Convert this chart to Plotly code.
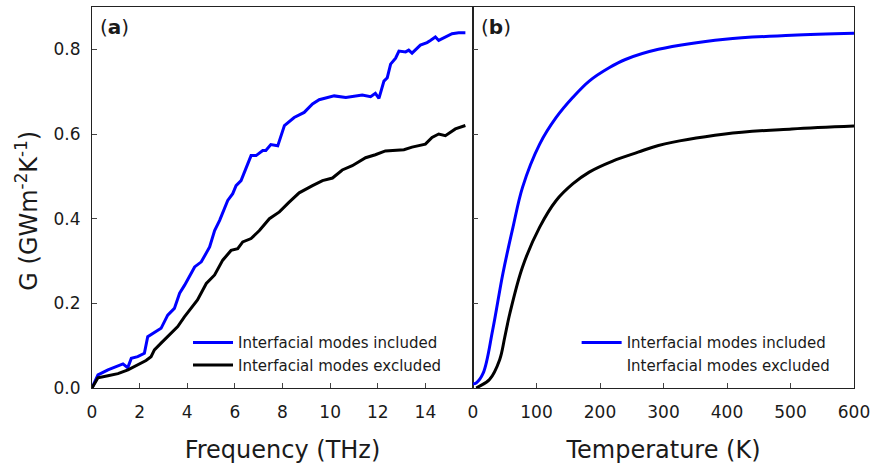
import plotly.graph_objects as go

# Panel (a): cumulative G vs frequency
freq_incl = [0.0, 0.25, 0.67, 1.09, 1.3, 1.5, 1.65, 1.92, 2.2, 2.34, 2.62, 2.9, 3.18, 3.46, 3.68, 3.89,
             4.31, 4.59, 4.94, 5.15, 5.36, 5.7, 5.91, 6.05, 6.26, 6.47, 6.68, 6.89, 7.17, 7.3, 7.51, 7.8,
             8.08, 8.49, 8.91, 9.26, 9.54, 10.17, 10.66, 11.35, 11.7, 11.9, 12.05, 12.26, 12.4, 12.54,
             12.75, 12.89, 13.17, 13.3, 13.44, 13.79, 14.07, 14.21, 14.42, 14.56, 14.84, 15.12, 15.4, 15.68]
g_incl = [0.0, 0.031, 0.043, 0.053, 0.057, 0.048, 0.07, 0.074, 0.082, 0.121, 0.131, 0.141, 0.172, 0.188, 0.224, 0.243,
          0.286, 0.298, 0.333, 0.372, 0.396, 0.443, 0.459, 0.478, 0.49, 0.521, 0.549, 0.549, 0.561, 0.561, 0.575, 0.572,
          0.62, 0.639, 0.651, 0.671, 0.681, 0.69, 0.686, 0.692, 0.688, 0.696, 0.684, 0.725, 0.733, 0.765,
          0.779, 0.796, 0.794, 0.798, 0.791, 0.81, 0.816, 0.821, 0.829, 0.821, 0.829, 0.837, 0.839, 0.839]

freq_excl = [0.0, 0.04, 0.25, 0.67, 1.09, 1.51, 1.92, 2.27, 2.48, 2.62, 2.9, 3.25, 3.6, 3.88, 4.15, 4.43,
             4.8, 5.15, 5.49, 5.84, 6.12, 6.33, 6.68, 7.03, 7.45, 7.87, 8.28, 8.7, 9.26, 9.68, 10.1,
             10.51, 10.93, 11.49, 11.9, 12.32, 13.1, 13.44, 14.0, 14.28, 14.56, 14.84, 15.26, 15.68]
g_excl = [0.0, 0.004, 0.024, 0.029, 0.034, 0.043, 0.055, 0.065, 0.074, 0.09, 0.106, 0.125, 0.145, 0.168, 0.188, 0.208,
          0.247, 0.267, 0.302, 0.325, 0.329, 0.345, 0.353, 0.372, 0.4, 0.416, 0.439, 0.461, 0.478, 0.49, 0.496,
          0.515, 0.525, 0.544, 0.551, 0.56, 0.563, 0.569, 0.576, 0.592, 0.6, 0.596, 0.612, 0.62]

# Panel (b): G vs temperature
temp_incl = [0, 5, 16, 31, 47, 63, 78, 105, 131, 157, 183, 215, 240, 292, 397, 502, 600]
gt_incl = [0.01, 0.012, 0.035, 0.137, 0.27, 0.38, 0.474, 0.576, 0.639, 0.686, 0.725, 0.757, 0.776, 0.8, 0.824, 0.833, 0.838]

temp_excl = [5, 10, 26, 42, 50, 58, 78, 105, 131, 157, 183, 220, 260, 292, 397, 502, 600]
gt_excl = [0.0, 0.004, 0.02, 0.067, 0.12, 0.176, 0.286, 0.38, 0.443, 0.482, 0.51, 0.536, 0.557, 0.573, 0.6, 0.612, 0.619]

name_incl = "Interfacial modes included"
name_excl = "Interfacial modes excluded"
BLUE = "#0000ff"
FONT = "DejaVu Sans"
TXT = "#1a1a1a"

fig = go.Figure()
fig.add_trace(go.Scatter(x=freq_incl, y=g_incl, mode="lines", name=name_incl,
                         line=dict(color=BLUE, width=3), xaxis="x", yaxis="y", legend="legend"))
fig.add_trace(go.Scatter(x=freq_excl, y=g_excl, mode="lines", name=name_excl,
                         line=dict(color="black", width=3), xaxis="x", yaxis="y", legend="legend"))
fig.add_trace(go.Scatter(x=temp_incl, y=gt_incl, mode="lines", name=name_incl, line_shape="spline",
                         line=dict(color=BLUE, width=3), xaxis="x2", yaxis="y2", legend="legend2"))
fig.add_trace(go.Scatter(x=temp_excl, y=gt_excl, mode="lines", name=name_excl, line_shape="spline",
                         line=dict(color="black", width=3), xaxis="x2", yaxis="y2", legend="legend2",
                         showlegend=False))
# legend-only entry in panel (b) shown without a line sample, as in the original
fig.add_trace(go.Scatter(x=[None], y=[None], mode="lines", name=name_excl,
                         line=dict(color="rgba(0,0,0,0)", width=3), xaxis="x2", yaxis="y2",
                         legend="legend2"))

axis_common = dict(showline=True, linecolor="#222", linewidth=1, mirror=True, ticks="inside",
                   ticklen=5, tickcolor="#444", showgrid=False, zeroline=False,
                   tickfont=dict(family=FONT, size=17, color=TXT))

fig.update_layout(
    width=876, height=466,
    margin=dict(l=92, r=20, t=6, b=78),
    plot_bgcolor="white", paper_bgcolor="white",
    font=dict(family=FONT, color=TXT),
    xaxis=dict(domain=[0, 0.5], range=[0, 16], tickvals=[0, 2, 4, 6, 8, 10, 12, 14],
               ticklabelstandoff=9,
               title=dict(text="Frequency (THz)", font=dict(size=24), standoff=19), **axis_common),
    yaxis=dict(range=[0, 0.9], tickvals=[0, 0.2, 0.4, 0.6, 0.8], tickformat=".1f", anchor="x",
               ticklabelstandoff=7, **axis_common),
    xaxis2=dict(domain=[0.5, 1], range=[0, 600], tickvals=[0, 100, 200, 300, 400, 500, 600], anchor="y2",
                ticklabelstandoff=9,
                title=dict(text="Temperature (K)", font=dict(size=24), standoff=19), **axis_common),
    yaxis2=dict(range=[0, 0.9], tickvals=[0, 0.2, 0.4, 0.6, 0.8], showticklabels=False, anchor="x2",
                **axis_common),
    legend=dict(x=0.126, y=0.09, xanchor="left", yanchor="middle", bgcolor="rgba(0,0,0,0)",
                font=dict(family=FONT, size=15, color=TXT), tracegroupgap=0, itemwidth=40),
    legend2=dict(x=0.636, y=0.09, xanchor="left", yanchor="middle", bgcolor="rgba(0,0,0,0)",
                 font=dict(family=FONT, size=15, color=TXT), tracegroupgap=0, itemwidth=40),
    annotations=[
        dict(text="(<b>a</b>)", x=0.008, y=0.985, xref="paper", yref="paper", xanchor="left", yanchor="top",
             showarrow=False, font=dict(family=FONT, size=20, color=TXT)),
        dict(text="(<b>b</b>)", x=0.508, y=0.985, xref="paper", yref="paper", xanchor="left", yanchor="top",
             showarrow=False, font=dict(family=FONT, size=20, color=TXT)),
        dict(text="G (GWm<sup>-2</sup>K<sup>-1</sup>)", x=-0.085, y=0.466, xref="paper", yref="paper",
             textangle=-90, xanchor="center", yanchor="middle", showarrow=False,
             font=dict(family=FONT, size=24, color=TXT)),
    ],
)

fig.write_html("out.html")
